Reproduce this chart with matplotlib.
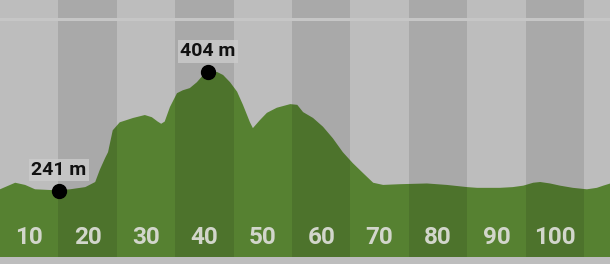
import matplotlib.pyplot as plt
from matplotlib import transforms
import numpy as np

# elevation profile (km, m)
km = [5.0, 7.6, 9.3, 11.0, 13.6, 15.1, 17.0, 19.6, 21.3, 22.1, 23.0, 23.5, 24.3, 25.5,
      27.8, 29.8, 31.0, 32.0, 32.6, 33.2, 34.1, 35.3, 36.3, 37.5, 38.7, 39.8, 40.6, 42.2,
      43.2, 44.4, 45.6, 46.6, 47.8, 48.3, 49.5, 50.7, 52.4, 54.7, 55.9, 56.9, 58.6, 60.3,
      62.0, 63.7, 65.4, 67.2, 68.9, 70.6, 73.5, 78.1, 81.5, 85.0, 86.7, 88.4, 90.6, 92.8,
      94.6, 96.3, 97.5, 99.2, 100.9, 103.1, 105.5, 107.2, 108.3, 109.5]
elev = [243, 252, 249, 243, 242, 242, 243, 246, 253, 270, 286, 294, 324, 335,
        341, 345, 342, 336, 333, 336, 356, 375, 379, 382, 390, 400, 404, 404,
        400, 390, 377, 359, 335, 327, 338, 348, 355, 360, 359, 349, 341, 329,
        313, 294, 279, 265, 252, 249, 250, 251, 249, 246, 245, 245, 245, 246,
        248, 252, 253, 251, 248, 245, 243, 245, 248, 251]

tick_km = [10, 20, 30, 40, 50, 60, 70, 80, 90, 100]
min_pt = (15.1, 241)
max_pt = (40.6, 404)

fig = plt.figure(figsize=(6.1, 2.64), dpi=100, facecolor="#bdbdbd")
ax = fig.add_axes([0, 7 / 264, 1, 257 / 264])
ax.set_facecolor("#b0b0b0")
ax.set_xlim(5, 109.45)
ax.set_ylim(150, 503)
ax.axis("off")

ax.fill_between(km, elev, 150, color="#568131", lw=0, zorder=2)

# alternating darker bands, one per 10 km
for k in tick_km[::2]:
    ax.axvspan(k + 5, k + 15, color="black", alpha=0.1, lw=0, zorder=3)

ax.axhline(477, color="#c6c6c6", lw=2.2, zorder=4)

trans = transforms.blended_transform_factory(ax.transData, ax.transAxes)
for k in tick_km:
    ax.text(k, 0.052, str(k), transform=trans, ha="center", va="baseline",
            fontsize=17.5, fontweight="bold", family="Roboto", color="#d2d6cb", zorder=5)

for x, y in (min_pt, max_pt):
    ax.plot(x, y, "o", color="black", ms=10, zorder=6)
    ax.annotate(f"{y} m", (x, y), xytext=(0, 15), textcoords="offset points",
                ha="center", va="center", fontsize=14, fontweight="bold", family="Roboto",
                color="#111111", zorder=7,
                bbox=dict(boxstyle="square,pad=0.12", fc="#cacaca", ec="none", alpha=0.85))

fig.savefig("out.png", dpi=100, facecolor=fig.get_facecolor())
